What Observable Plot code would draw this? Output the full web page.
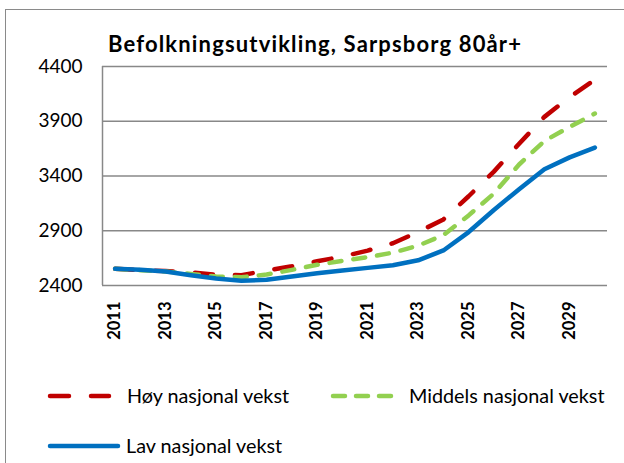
<!DOCTYPE html>
<html>
<head>
<meta charset="utf-8">
<script src="https://cdn.jsdelivr.net/npm/d3@7"></script>
<script src="https://cdn.jsdelivr.net/npm/@observablehq/plot@0.6"></script>
<style>
  html, body { margin: 0; padding: 0; background: #fff; }
  #wrap { position: relative; width: 624px; height: 463px; overflow: hidden; font-family: Lato, "Open Sans", sans-serif; }
  #frame { position: absolute; left: 5px; top: 9px; width: 700px; height: 600px; border-left: 1.5px solid #8a8a8a; border-top: 1.5px solid #8a8a8a; }
  #title { position: absolute; left: 108px; top: 0; }
  #chart { position: absolute; left: 0; top: 0; }
  #legend { position: absolute; left: 0; top: 0; }
</style>
</head>
<body>
<div id="wrap">
  <div id="frame"></div>
  <div id="chart"></div>
  <svg id="title" width="516" height="70"><text x="0" y="52" font-family="Lato" font-weight="bold" font-size="22" textLength="413" lengthAdjust="spacing" fill="#000">Befolkningsutvikling, Sarpsborg 80år+</text></svg>
  <svg id="legend" width="624" height="463"></svg>
</div>
<script>
const years = [2011, 2012, 2013, 2014, 2015, 2016, 2017, 2018, 2019, 2020,
               2021, 2022, 2023, 2024, 2025, 2026, 2027, 2028, 2029, 2030];
const hoy     = [2552, 2540, 2532, 2520, 2497, 2494, 2537, 2576, 2621, 2664,
                 2719, 2786, 2889, 3003, 3215, 3440, 3695, 3940, 4120, 4280];
const middels = [2552, 2540, 2528, 2506, 2482, 2476, 2500, 2543, 2589, 2625,
                 2658, 2700, 2764, 2860, 3040, 3240, 3505, 3720, 3848, 3970];
const lav     = [2552, 2543, 2528, 2494, 2464, 2443, 2452, 2482, 2512, 2537,
                 2561, 2585, 2630, 2720, 2888, 3090, 3280, 3462, 3570, 3660];
const seriesNames = ["Høy nasjonal vekst", "Middels nasjonal vekst", "Lav nasjonal vekst"];
const seriesColors = ["#C00000", "#92D050", "#0070C0"];
const seriesDash = ["18,22", "12,12", null];
const yTicks = [2400, 2900, 3400, 3900, 4400];
const xTicks = [2011, 2013, 2015, 2017, 2019, 2021, 2023, 2025, 2027, 2029];

const seriesValues = [hoy, middels, lav];
const rows = seriesValues.map((vals, s) => years.map((yr, i) => ({year: yr, value: vals[i], series: seriesNames[s]})));

const lineMarks = rows.map((r, s) => Plot.line(r, {
  x: "year", y: "value",
  stroke: seriesColors[s], strokeWidth: 4.5,
  strokeDasharray: seriesDash[s] || undefined,
  strokeLinecap: "round", strokeLinejoin: "round"
}));

const chart = Plot.plot({
  width: 624, height: 350,
  marginLeft: 102, marginRight: 17, marginTop: 66, marginBottom: 65,
  style: {fontFamily: "Lato, 'Open Sans', sans-serif", color: "#000", background: "transparent"},
  x: {domain: [years[0] - 0.5, years[years.length - 1] + 0.5]},
  y: {domain: [yTicks[0], yTicks[yTicks.length - 1]]},
  marks: [
    Plot.ruleY(yTicks, {stroke: "#888", strokeWidth: 1.5, strokeOpacity: 1}),
    Plot.ruleX([years[0] - 0.5], {y1: yTicks[0], y2: yTicks[yTicks.length - 1], stroke: "#888", strokeWidth: 1.5}),
    Plot.axisY({ticks: yTicks, tickFormat: d => String(d), tickSize: 0, tickPadding: 20, fontSize: 19, label: null}),
    Plot.axisX({ticks: xTicks, tickFormat: d => String(d), tickRotate: -90, tickSize: 0, tickPadding: 16, fontSize: 16.5, fontWeight: "bold", label: null}),
    ...lineMarks
  ]
});
document.getElementById("chart").appendChild(chart);

// legend
const leg = d3.select("#legend");
const legPos = [{x: 48, y: 396, w: 63, tx: 127}, {x: 331, y: 396, w: 63, tx: 409}, {x: 48, y: 446, w: 72, tx: 126}];
seriesNames.forEach((name, s) => {
  const p = legPos[s];
  leg.append("line")
    .attr("x1", p.x + 2).attr("x2", p.x + p.w - 2).attr("y1", p.y).attr("y2", p.y)
    .attr("stroke", seriesColors[s]).attr("stroke-width", 4.5)
    .attr("stroke-linecap", "round")
    .attr("stroke-dasharray", s === 0 ? "19,22" : s === 1 ? "12,11" : null);
  leg.append("text")
    .attr("x", p.tx).attr("y", p.y + 7)
    .attr("font-family", "Lato").attr("font-size", 19.8).attr("fill", "#000")
    .text(name);
});
</script>
</body>
</html>
